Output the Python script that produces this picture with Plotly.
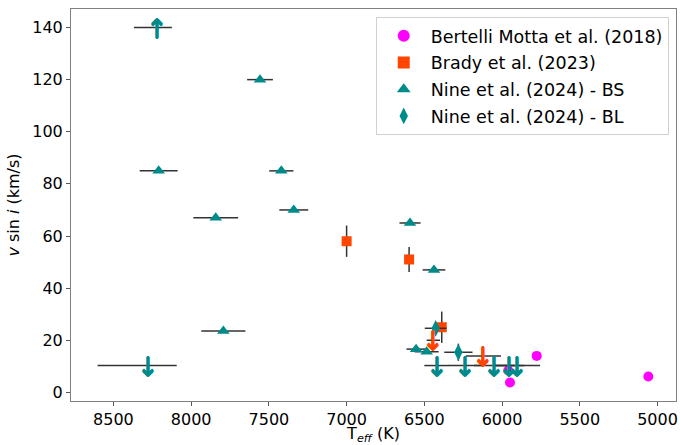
import plotly.graph_objects as go

# ---- data ----
bm_teff = [5777, 5949, 5960, 5059]
bm_vsini = [14, 3.8, 8.4, 6.1]

brady_teff = [7000, 6598, 6388]
brady_vsini = [58, 51, 25]
brady_verr = [6, 4.8, 6]

brady_ul_teff = [6442, 6120]
brady_ul_vsini = [20, 14]
brady_ul_terr = [43, 113]

bs_teff = [8209, 7557, 7420, 7842, 7340, 7793, 6592, 6438, 6553, 6485]
bs_vsini = [85, 120, 85, 67, 70, 23.6, 65, 47, 16.6, 15.6]
bs_terr = [122, 83, 78, 144, 93, 142, 68, 73, 62, 77]

bs_ll_teff = [8220]
bs_ll_vsini = [140]
bs_ll_terr_plus = [148]
bs_ll_terr_minus = [96]

bl_teff = [6427, 6281]
bl_vsini = [24.6, 15.4]
bl_terr = [70, 91]
bl_verr = [0, 3.3]

nine_ul_teff = [8280, 6420, 6238, 6050, 5953, 5905]
nine_ul_vsini = [10.3, 10.3, 10.3, 10.3, 10.3, 10.3]
nine_ul_terr_plus = [322, 80, 110, 130, 97, 150]
nine_ul_terr_minus = [187, 74, 110, 130, 97, 150]

x_ticks = [8500, 8000, 7500, 7000, 6500, 6000, 5500, 5000]
y_ticks = [0, 20, 40, 60, 80, 100, 120, 140]

MAGENTA = "#FF00FF"
ORANGE = "#FF4500"
TEAL = "#008B8B"
ECOL = "#333333"
FONT = "DejaVu Sans"

fig = go.Figure()


def err(arr, minus=None):
    d = dict(type="data", array=arr, color=ECOL, thickness=1.5, width=0, visible=True)
    if minus is not None:
        d["symmetric"] = False
        d["arrayminus"] = minus
    return d


def arrows(xs, ys, glyph, color):
    sh = ", ".join(f"{dx}px {dy}px 0 {color}" for dx, dy in [(0.6, 0), (-0.6, 0), (0, 0.6), (0, -0.6)])
    for xv, yv in zip(xs, ys):
        fig.add_annotation(x=xv, y=yv, xref="x", yref="y", text=glyph, showarrow=False,
                           xanchor="center", yanchor="middle", yshift=-1,
                           font=dict(family=FONT, size=26, color=color, shadow=sh))


# Bertelli Motta
fig.add_trace(go.Scatter(x=bm_teff, y=bm_vsini, mode="markers", name="Bertelli Motta et al. (2018)",
                         legendgroup="a",
                         marker=dict(symbol="circle", size=10, color=MAGENTA)))
# Brady upper limits (error bars only; arrows drawn as annotations)
fig.add_trace(go.Scatter(x=brady_ul_teff, y=brady_ul_vsini, mode="markers", showlegend=False,
                         marker=dict(size=1, opacity=0), error_x=err(brady_ul_terr), hoverinfo="skip"))
# Brady detections
fig.add_trace(go.Scatter(x=brady_teff, y=brady_vsini, mode="markers", name="Brady et al. (2023)",
                         legendgroup="b",
                         marker=dict(symbol="square", size=10, color=ORANGE),
                         error_y=err(brady_verr)))
# Nine BS detections
fig.add_trace(go.Scatter(x=bs_teff, y=bs_vsini, mode="markers", name="Nine et al. (2024) - BS",
                         legendgroup="c",
                         marker=dict(symbol="triangle-up", size=11, color=TEAL),
                         error_x=err(bs_terr)))
# Nine BS lower limit
fig.add_trace(go.Scatter(x=bs_ll_teff, y=bs_ll_vsini, mode="markers", showlegend=False,
                         marker=dict(size=1, opacity=0),
                         error_x=err(bs_ll_terr_plus, bs_ll_terr_minus), hoverinfo="skip"))
# Nine upper limits
fig.add_trace(go.Scatter(x=nine_ul_teff, y=nine_ul_vsini, mode="markers", showlegend=False,
                         marker=dict(size=1, opacity=0),
                         error_x=err(nine_ul_terr_plus, nine_ul_terr_minus), hoverinfo="skip"))
# Nine BL
fig.add_trace(go.Scatter(x=bl_teff, y=bl_vsini, mode="markers", name="Nine et al. (2024) - BL",
                         legendgroup="d",
                         marker=dict(symbol="diamond-tall", size=12, color=TEAL),
                         error_x=err(bl_terr), error_y=err(bl_verr)))

arrows(brady_ul_teff, brady_ul_vsini, "↓", ORANGE)
arrows(bs_ll_teff, bs_ll_vsini, "↑", TEAL)
arrows(nine_ul_teff, nine_ul_vsini, "↓", TEAL)

axis_common = dict(showgrid=False, zeroline=False, showline=True, mirror=True, linecolor="#808080",
                   linewidth=1, ticks="outside", ticklen=4, tickcolor="#555555", automargin=False,
                   tickfont=dict(family=FONT, size=16, color="black"))

fig.update_layout(
    width=681, height=445,
    margin=dict(l=71, r=5, t=9, b=44),
    plot_bgcolor="white", paper_bgcolor="white",
    font=dict(family=FONT, size=16, color="black"),
    xaxis=dict(range=[8773, 4881], tickvals=x_ticks,
               title=dict(text="T<sub><i>eff</i></sub> (K)", standoff=2, font=dict(size=16)),
               **axis_common),
    yaxis=dict(range=[-3.3, 147.1], tickvals=y_ticks,
               title=dict(text="<i>v</i> sin <i>i</i> (km/s)", standoff=8, font=dict(size=16)),
               **axis_common),
    legend=dict(x=0.988, y=0.98, xanchor="right", yanchor="top", bgcolor="white",
                bordercolor="#d0d0d0", borderwidth=1, font=dict(family=FONT, size=17.5),
                tracegroupgap=1, itemwidth=44, itemsizing="constant"),
)

fig.write_html("out.html")
